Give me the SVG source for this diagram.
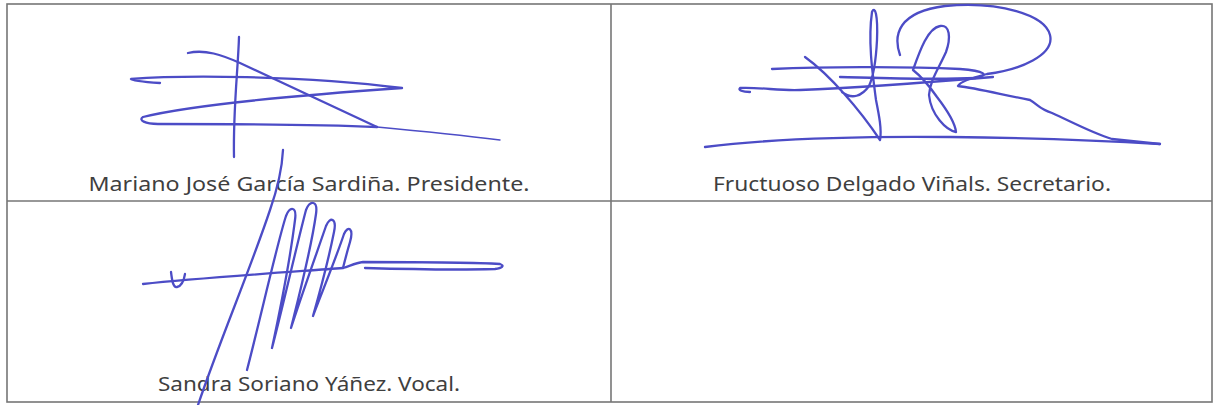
<svg xmlns="http://www.w3.org/2000/svg" width="1214" height="405" viewBox="0 0 1214 405">
<style>
.grid{stroke:#767676;stroke-width:1.6;fill:none}
.lbl{font-family:"Noto Sans","Open Sans","Liberation Sans",sans-serif;font-size:20px;fill:#3f3f3f;text-anchor:middle}
.sig{fill:none;stroke:#4c4cc6;stroke-width:2.3;stroke-linecap:round;stroke-linejoin:round}
.thin{stroke-width:1.4}
</style>
<rect width="1214" height="405" fill="#ffffff"/>
<g id="table">
<rect class="grid" x="7" y="4" width="1205" height="398"/>
<line class="grid" x1="611" y1="4" x2="611" y2="402"/>
<line class="grid" x1="7" y1="201" x2="1212" y2="201"/>
</g>
<g id="cell-presidente">
<text class="lbl" x="309" y="191" textLength="441" lengthAdjust="spacingAndGlyphs">Mariano José García Sardiña. Presidente.</text>
<g id="signature-1">
<path class="sig" d="M239 37 C238 70 233 110 234 157"/>
<path class="sig" d="M188 53 C205 49 222 55 240 63 L377 127"/>
<path class="sig thin" d="M377 127 C420 131 460 135 500 140"/>
<path class="sig" d="M160 83 C145 82 132 81 131 79 C180 75 300 75 402 88 C330 93 200 103 143 117 C138 120 145 124 158 124 C250 124 330 125 377 127"/>
</g>
</g>
<g id="cell-secretario">
<text class="lbl" x="912" y="191" textLength="398" lengthAdjust="spacingAndGlyphs">Fructuoso Delgado Viñals. Secretario.</text>
<g id="signature-2">
<path class="sig" d="M705 147 C760 140 850 136 950 137 C1040 138 1110 141 1160 144"/>
<path class="sig" d="M900 55 C893 35 898 12 945 6 C1000 1 1045 15 1050 35 C1055 55 1020 70 987 74 C975 77 960 82 958 86 C975 88 995 93 1030 100 C1040 106 1038 108 1052 113 C1072 122 1092 133 1112 139 L1160 144"/>
<path class="sig" d="M805 57 C830 75 860 110 880 140 C882 130 879 115 876 100 C872 70 868 40 872 12 C875 5 878 15 877 40 C876 60 874 75 869 86 C862 96 852 100 842 92"/>
<path class="sig" d="M913 70 C920 50 928 28 940 26 C950 24 951 38 946 52 C939 68 930 80 929 95 C931 115 946 130 956 132 C955 122 947 110 937 97 C930 87 922 77 913 70"/>
<path class="sig" d="M772 69 C820 67 900 66 960 69 C985 71 990 75 976 78 C930 80 880 78 840 77"/>
<path class="sig" d="M750 92 C742 92 738 90 740 88 C760 87 780 91 800 90 C850 88 920 83 993 77"/>
</g>
</g>
<g id="cell-vocal">
<text class="lbl" x="309" y="391" textLength="302" lengthAdjust="spacingAndGlyphs">Sandra Soriano Yáñez. Vocal.</text>
<g id="signature-3">
<path class="sig" d="M283 150 C282 170 277 190 270 210 C250 270 220 340 198 405"/>
<path class="sig" d="M143 284 C200 278 290 272 343 268 C350 266 355 263 363 262 C410 262 470 262 500 264 C505 266 502 268 495 269 C460 270 400 269 365 268"/>
<path class="sig" d="M171 272 C172 280 173 288 177 287 C182 286 184 280 185 274"/>
<path class="sig" d="M247 370 C260 320 278 240 286 216 C290 206 297 206 295 220 C290 260 278 320 272 348 C282 310 298 240 306 210 C310 200 318 200 316 214 C311 250 298 300 291 328 C300 300 316 255 326 226 C330 216 337 218 334 232 C328 262 319 295 313 316 C322 292 336 258 344 234 C348 225 354 228 350 242 C347 252 345 260 343 268"/>
</g>
</g>
</svg>
